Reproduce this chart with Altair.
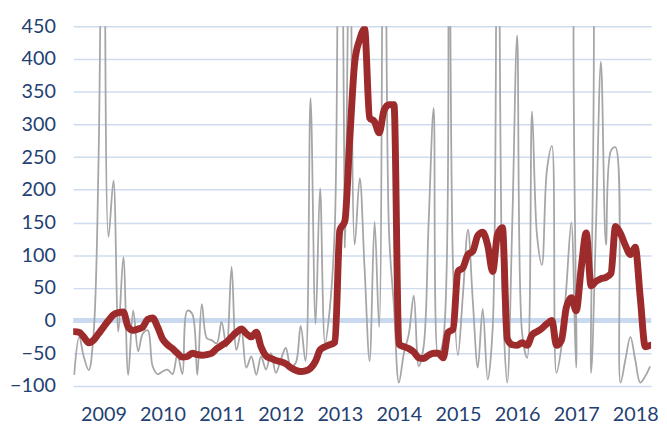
import altair as alt
import pandas as pd

# Monthly observations, Jan 2009 .. Oct 2018
start_month = "2009-01-01"
n_months = 118

red_series = [
    -17, -18, -25, -34, -30, -20, -10, 0, 9, 12,
    13, -10, -15, -13, -10, 2, 4, -10, -28, -37,
    -43, -50, -56, -55, -50, -52, -53, -52, -50, -43,
    -38, -33, -25, -18, -13, -20, -25, -18, -40, -54,
    -58, -61, -63, -66, -72, -76, -78, -77, -73, -62,
    -45, -40, -37, -33, 138, 152, 280, 395, 430, 446,
    310, 304, 287, 322, 330, 330, -36, -40, -43, -48,
    -57, -58, -53, -50, -50, -57, -18, -13, 75, 81,
    101, 106, 130, 135, 115, 75, 131, 142, -28, -37,
    -38, -34, -38, -22, -17, -12, -5, 0, -38, -30,
    20, 35, 15, 80, 134, 53, 60, 64, 66, 72,
    144, 133, 115, 101, 112, 35, -40, -38,
]

gray_series = [
    -83, -25, -55, -76, -20, 250, 900, 128, 214, -17,
    97, -83, 15, -47, -20, -15, -70, -82, -78, -75,
    -82, -52, -82, 15, 10, -83, 25, -27, -30, -35,
    -2, -40, 82, -45, -15, -72, -55, -83, -55, -75,
    -50, -80, -60, -42, -70, -65, -8, -62, 340, -5,
    202, -35, 21, 150, 1200, 112, 650, 116, 218, 80,
    -62, 151, -10, 1000, 136, 20, -95, -50, -20, 38,
    -70, -40, 150, 325, -55, -30, 1000, 80, -53, 40,
    139, 30, -72, 18, -90, -10, 1000, 50, -95, 150,
    436, -20, -57, 320, 130, 85, 230, 267, -80, -40,
    50, 150, -72, 700, 700, -80, 150, 396, 116, 260,
    265, -95, -60, -25, -60, -95, -85, -70,
]

years = [2009, 2010, 2011, 2012, 2013, 2014, 2015, 2016, 2017, 2018]
y_ticks = [-100, -50, 0, 50, 100, 150, 200, 250, 300, 350, 400, 450]

dates = pd.date_range(start_month, periods=n_months, freq="MS").strftime("%Y-%m-%d")
df = pd.DataFrame({"date": dates, "red": red_series, "gray": gray_series})

label_color = "#243F72"
x_scale = alt.Scale(
    type="utc",
    domain=[alt.DateTime(year=2008, month=12, date=26, utc=True),
            alt.DateTime(year=2018, month=10, date=7, utc=True)],
)
y_scale = alt.Scale(domain=[-100, 450], nice=False, zero=False)

x_axis = alt.Axis(
    values=[alt.DateTime(year=y, month=7, date=1, utc=True) for y in years],
    format="%Y", title=None, grid=False, domain=False, ticks=False, tickSize=0,
    labelFontSize=20, labelColor=label_color, labelFont="Lato", labelPadding=19,
    labelFlush=False, labelOverlap=False,
)
y_axis = alt.Axis(
    values=y_ticks, title=None, grid=True, gridColor="#CFDCEF", gridWidth=1.5,
    domain=False, ticks=False, tickSize=0, labelFontSize=20, labelColor=label_color,
    labelFont="Lato", labelPadding=18, labelOverlap=False,
)

zero_df = pd.DataFrame({"z": [0]})
zero_line = alt.Chart(zero_df).mark_rule(color="#C9D9EF", strokeWidth=5).encode(
    y=alt.Y("z:Q", scale=y_scale, axis=y_axis),
)

base = alt.Chart(df)

gray_line = base.mark_line(color="#A6A6A6", strokeWidth=1.8, interpolate="catmull-rom", clip=True).encode(
    x=alt.X("date:T", scale=x_scale, axis=x_axis),
    y=alt.Y("gray:Q", scale=y_scale, axis=y_axis),
)

red_line = base.mark_line(color="#9E2B2B", strokeWidth=7, interpolate="monotone", clip=True,
                          strokeJoin="round", strokeCap="round").encode(
    x=alt.X("date:T", scale=x_scale, axis=x_axis),
    y=alt.Y("red:Q", scale=y_scale, axis=y_axis),
)

chart = alt.layer(zero_line, gray_line, red_line).properties(
    width=585, height=364,
    autosize=alt.AutoSizeParams(type="none"),
    padding={"top": 16, "left": 66, "right": 8, "bottom": 38},
).configure_view(stroke=None)

chart.save("out.html", embed_options={"renderer": "svg", "actions": False})
